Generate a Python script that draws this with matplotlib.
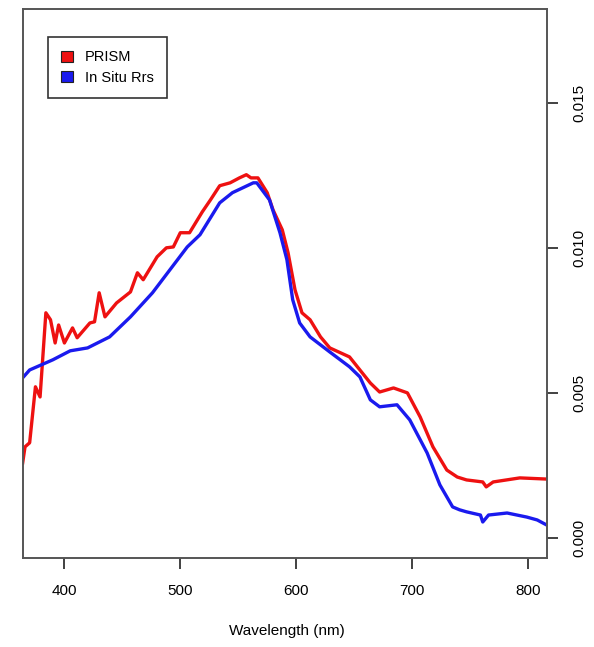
import numpy as np
import matplotlib
matplotlib.use("Agg")
import matplotlib.pyplot as plt
from matplotlib.patches import Patch

plt.rcParams['font.family'] = ['Liberation Sans', 'DejaVu Sans']

# PRISM spectrum
wl_prism = [364, 366, 370, 375, 379, 384, 388, 392, 395, 400, 407, 411, 422, 426,
            430, 435, 445, 457, 463, 468, 480, 488, 494, 500, 508, 519, 526, 534,
            543, 551, 557, 561, 567, 575, 580, 588, 593, 599, 605, 612, 621, 629,
            646, 655, 664, 672, 684, 696, 707, 718, 730, 739, 747, 761, 764, 770,
            793, 816]
rrs_prism = [0.00259, 0.00314, 0.00328, 0.00521, 0.00486, 0.00776, 0.00752, 0.00672,
             0.00734, 0.00672, 0.00724, 0.00690, 0.00741, 0.00745, 0.00845, 0.00762,
             0.00810, 0.00848, 0.00914, 0.00890, 0.00969, 0.01000, 0.01003, 0.01052,
             0.01052, 0.01124, 0.01165, 0.01214, 0.01224, 0.01241, 0.01252, 0.01241,
             0.01241, 0.01190, 0.01131, 0.01062, 0.00983, 0.00855, 0.00776, 0.00752,
             0.00693, 0.00655, 0.00624, 0.00579, 0.00534, 0.00503, 0.00517, 0.00500,
             0.00417, 0.00314, 0.00234, 0.00210, 0.00200, 0.00193, 0.00176, 0.00193,
             0.00207, 0.00203]

# in situ Rrs
wl_insitu = [364, 370, 390, 405, 420, 439, 457, 476, 506, 517, 534, 545, 563, 566,
             577, 586, 592, 597, 603, 612, 629, 646, 655, 664, 672, 687, 698, 713,
             724, 735, 741, 747, 759, 761, 766, 782, 799, 808, 816]
rrs_insitu = [0.00552, 0.00579, 0.00614, 0.00645, 0.00655, 0.00693, 0.00762, 0.00845,
              0.01003, 0.01045, 0.01155, 0.01190, 0.01224, 0.01224, 0.01165, 0.01052,
              0.00959, 0.00821, 0.00741, 0.00693, 0.00641, 0.00590, 0.00555, 0.00476,
              0.00452, 0.00459, 0.00407, 0.00293, 0.00183, 0.00107, 0.00097, 0.00090,
              0.00079, 0.00055, 0.00079, 0.00086, 0.00072, 0.00062, 0.00045]

xticks = [400, 500, 600, 700, 800]
yticks = [0.000, 0.005, 0.010, 0.015]

fig = plt.figure(figsize=(5.94, 6.47), dpi=100)
ax = fig.add_axes([0.0382, 0.1376, 0.8826, 0.848])

red = '#ee1111'
blue = '#1a1aee'
ax.plot(wl_prism, rrs_prism, color=red, lw=2.4, solid_joinstyle='round')
ax.plot(wl_insitu, rrs_insitu, color=blue, lw=2.4, solid_joinstyle='round')

ax.set_xlim(364, 816.4)
ax.set_ylim(-0.00069, 0.01822)

ax.set_xticks(xticks)
ax.set_xticklabels([str(t) for t in xticks])
ax.set_yticks(yticks)
ax.set_yticklabels(['%.3f' % t for t in yticks], rotation=90, va='center')
ax.yaxis.tick_right()
ax.tick_params(axis='x', length=8, width=1.3, pad=11, labelsize=11, color='#333')
ax.tick_params(axis='y', length=8, width=1.3, pad=10, labelsize=11, color='#333')

for s in ax.spines.values():
    s.set_color('#555')
    s.set_linewidth(1.4)

ax.set_xlabel('Wavelength (nm)', fontsize=11)
ax.xaxis.set_label_coords(0.504, -0.133)
ax.xaxis.label.set_va('center')

handles = [Patch(facecolor=red, edgecolor='#222', lw=0.8),
           Patch(facecolor=blue, edgecolor='#222', lw=0.8)]
leg = ax.legend(handles, ['PRISM', 'In Situ Rrs'], loc='upper left',
                bbox_to_anchor=(0.048, 0.9495), borderaxespad=0, fontsize=10.5,
                fancybox=False, framealpha=1, edgecolor='#333',
                handlelength=0.8, handleheight=0.8, handletextpad=0.85,
                labelspacing=0.45, borderpad=0.9)
leg.get_frame().set_linewidth(1.2)

fig.savefig('out.png', dpi=100)
